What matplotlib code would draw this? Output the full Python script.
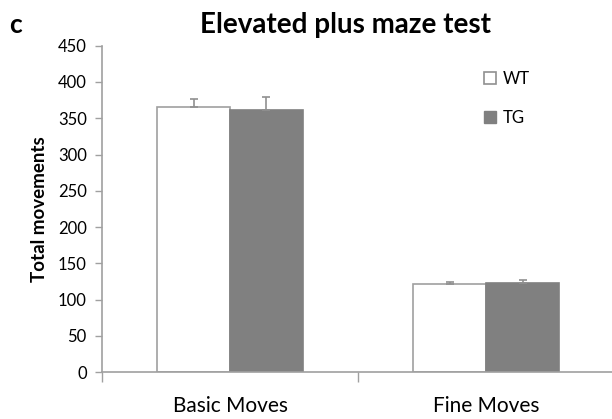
import matplotlib
matplotlib.use("Agg")
from matplotlib import pyplot as plt
from matplotlib.patches import Patch
import numpy as np

categories = ["Basic Moves", "Fine Moves"]
groups = ["WT", "TG"]
wt_values = [366, 122]
wt_errors = [11, 2]
tg_values = [361, 123]
tg_errors = [19, 4]
y_ticks = [0, 50, 100, 150, 200, 250, 300, 350, 400, 450]

plt.rcParams['font.family'] = ['Lato', 'DejaVu Sans']

fig = plt.figure(figsize=(6.12, 4.19), dpi=100)
ax = fig.add_axes([0.1667, 0.1115, 0.837, 0.7794])

x = np.arange(len(categories))
w = 0.284
edge = "#a0a0a0"
err_kw = dict(ecolor="#909090", capsize=3, elinewidth=1.2, capthick=1.2)

# only the upper half of the error bar is drawn, like the original
ax.bar(x - w / 2, wt_values, w, color="white", edgecolor=edge, linewidth=1.2,
       yerr=[np.zeros(len(wt_errors)), wt_errors], error_kw=err_kw)
ax.bar(x + w / 2, tg_values, w, color="#808080", edgecolor="#808080", linewidth=1.2,
       yerr=[np.zeros(len(tg_errors)), tg_errors], error_kw=err_kw)

ax.set_xlim(-0.5, 1.5)
ax.set_ylim(0, 450)
ax.set_yticks(y_ticks)
ax.tick_params(axis="y", direction="out", length=5, width=1, color=edge, labelsize=12, pad=6)

ax.set_xticks(x)
ax.set_xticklabels(categories, fontsize=15)
ax.set_xticks([-0.5, 0.5, 1.5], minor=True)
ax.tick_params(axis="x", which="major", length=0, pad=17)
ax.tick_params(axis="x", which="minor", direction="out", length=7, width=1, color=edge)

for s in ["top", "right"]:
    ax.spines[s].set_visible(False)
for s in ["left", "bottom"]:
    ax.spines[s].set_color(edge)
    ax.spines[s].set_linewidth(1.2)

ax.set_ylabel("Total movements", fontsize=13.5, fontweight="bold", labelpad=7)
fig.text(0.565, 0.94, "Elevated plus maze test", fontsize=20, fontweight="bold", ha="center", va="center")
fig.text(0.026, 0.94, "c", fontsize=19, fontweight="bold", ha="center", va="center")

handles = [Patch(facecolor="white", edgecolor="#909090", linewidth=1.2),
           Patch(facecolor="#808080", edgecolor="#808080")]
fig.legend(handles, groups, loc="upper left", bbox_to_anchor=(0.767, 0.866), frameon=False,
           fontsize=12, handlelength=0.7, handleheight=0.7, handletextpad=0.4, labelspacing=1.35)

fig.savefig("out.png", dpi=100)
